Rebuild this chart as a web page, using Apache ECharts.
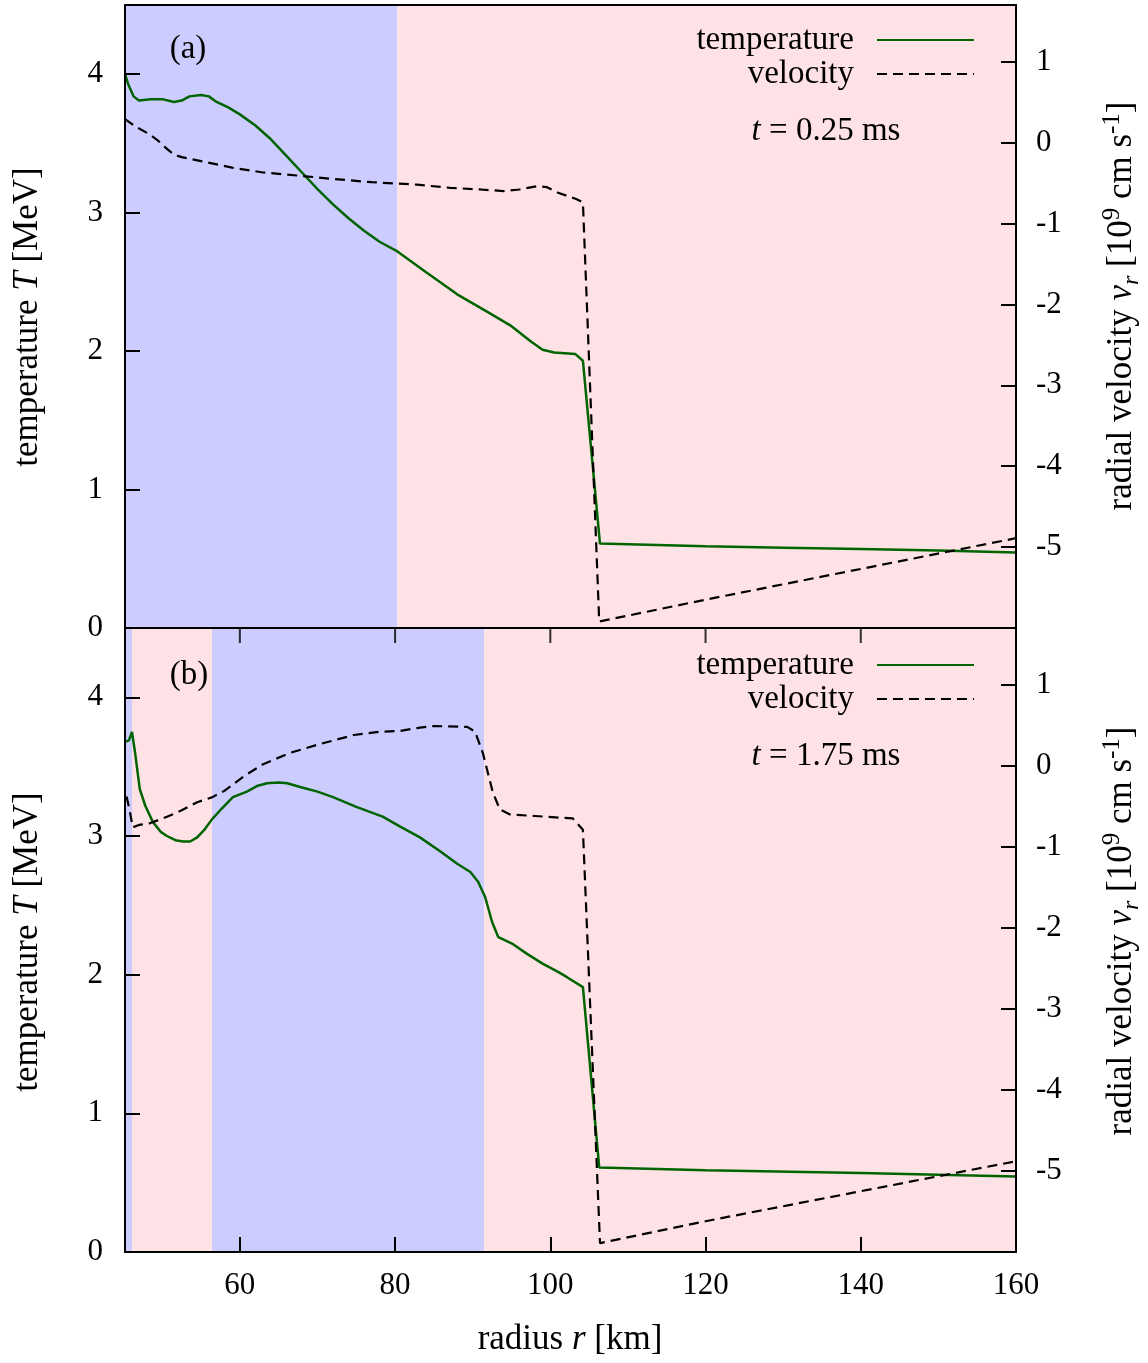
<!DOCTYPE html>
<html><head><meta charset="utf-8">
<script src="https://cdn.jsdelivr.net/npm/echarts@6/dist/echarts.min.js"></script>
<style>html,body{margin:0;padding:0;background:#fff}#c{width:1148px;height:1363px}</style>
</head><body><div id="c"></div><script>
// ---------- data ----------
const xTicks = [60, 80, 100, 120, 140, 160];
const tTicks = [0, 1, 2, 3, 4];
const vTicks = [-5, -4, -3, -2, -1, 0, 1];
const tMax = 4.5;

// background regions (radius ranges, km)
const blueBandsA = [[45.2, 80.3]];
const pinkBandsA = [[80.3, 160]];
const blueBandsB = [[45.2, 46.1], [56.4, 91.5]];
const pinkBandsB = [[46.1, 56.4], [91.5, 160]];

// panel (a), t = 0.25 ms
const rTempA = [45.2, 45.6, 46.3, 47.0, 48.5, 50.0, 51.5, 52.5, 53.5, 55.0, 56.0, 57.0, 58.5, 60.0, 62.0, 64.0, 66.0, 68.0, 70.0, 72.0, 74.0, 76.0, 78.0, 80.3, 84.0, 88.0, 92.0, 95.0, 97.5, 99.0, 100.5, 103.2, 104.2, 106.4, 110, 120, 130, 140, 150, 160];
const tempA  = [4.00, 3.93, 3.84, 3.81, 3.82, 3.82, 3.80, 3.81, 3.84, 3.85, 3.84, 3.80, 3.76, 3.71, 3.63, 3.53, 3.41, 3.29, 3.17, 3.06, 2.96, 2.87, 2.79, 2.72, 2.57, 2.41, 2.28, 2.18, 2.07, 2.01, 1.99, 1.98, 1.93, 0.61, 0.605, 0.59, 0.58, 0.57, 0.56, 0.545];
const rVelA  = [45.2, 46.5, 48.4, 49.5, 50.5, 51.5, 52.5, 55.0, 59.0, 63.0, 67.7, 72.0, 77.0, 82.8, 87.1, 91.0, 94.0, 96.0, 98.3, 99.5, 101.0, 103.4, 104.2, 106.3, 120, 140, 160];
const velA   = [0.29, 0.20, 0.10, 0.02, -0.07, -0.15, -0.18, -0.23, -0.31, -0.37, -0.41, -0.45, -0.49, -0.52, -0.56, -0.58, -0.60, -0.58, -0.54, -0.55, -0.62, -0.70, -0.74, -5.92, -5.65, -5.27, -4.89];

// panel (b), t = 1.75 ms
const rTempB = [45.3, 45.7, 46.1, 46.5, 47.1, 47.8, 48.8, 49.8, 50.6, 51.7, 52.7, 53.6, 54.5, 55.5, 56.4, 57.7, 59.1, 60.9, 62.2, 63.5, 65.0, 66.1, 68.0, 70.0, 72.0, 75.0, 78.4, 80.6, 83.2, 85.8, 88.0, 89.7, 90.7, 91.6, 92.5, 93.3, 95.2, 97.0, 99.0, 101.0, 102.2, 104.2, 106.3, 120, 140, 160];
const tempB  = [3.68, 3.69, 3.75, 3.60, 3.34, 3.22, 3.10, 3.03, 3.00, 2.97, 2.96, 2.96, 2.99, 3.05, 3.12, 3.20, 3.28, 3.32, 3.36, 3.38, 3.385, 3.38, 3.35, 3.32, 3.28, 3.21, 3.14, 3.07, 2.99, 2.89, 2.80, 2.74, 2.67, 2.56, 2.38, 2.27, 2.22, 2.15, 2.08, 2.02, 1.98, 1.91, 0.61, 0.59, 0.57, 0.545];
const rVelB  = [45.4, 45.8, 46.2, 47.0, 48.4, 50.6, 52.5, 54.5, 56.4, 58.0, 60.5, 63.0, 66.5, 70.0, 74.7, 78.0, 80.6, 83.2, 85.0, 89.3, 90.3, 91.3, 92.6, 93.5, 94.8, 98.0, 102.9, 104.2, 106.4, 120, 140, 160];
const velB   = [-0.38, -0.55, -0.76, -0.73, -0.71, -0.63, -0.55, -0.45, -0.39, -0.31, -0.13, 0.02, 0.16, 0.26, 0.38, 0.42, 0.43, 0.47, 0.49, 0.48, 0.42, 0.16, -0.33, -0.54, -0.60, -0.62, -0.65, -0.79, -5.89, -5.62, -5.25, -4.88];

// ---------- build ----------
const FONT = 'Liberation Serif';
const zip = (a, b) => a.map((v, i) => [v, b[i]]);
const BLUE = '#ccccff', PINK = '#ffe2e5';
const bandData = (blue, pink) =>
  blue.map(b => [{ xAxis: b[0], itemStyle: { color: BLUE } }, { xAxis: b[1] }])
    .concat(pink.map(b => [{ xAxis: b[0], itemStyle: { color: PINK } }, { xAxis: b[1] }]));

const tickStyle = { show: true, inside: true, length: 15, lineStyle: { color: '#000', width: 2 } };
const lblStyle = { color: '#000', fontFamily: FONT, fontSize: 31 };

function xAx(grid, showLbl, showTick) {
  return {
    type: 'value', gridIndex: grid, position: 'bottom', min: 45.2, max: 160, z: 10,
    axisLine: { show: false, onZero: false }, splitLine: { show: false },
    axisTick: Object.assign({}, tickStyle, { show: showTick, customValues: xTicks }),
    axisLabel: Object.assign({}, lblStyle, { show: showLbl, margin: 18, customValues: xTicks })
  };
}
function yT(grid) {
  return {
    type: 'value', gridIndex: grid, position: 'left', min: 0, max: tMax, z: 10,
    axisLine: { show: false, onZero: false }, splitLine: { show: false },
    axisTick: Object.assign({}, tickStyle, { customValues: tTicks }),
    axisLabel: Object.assign({}, lblStyle, { margin: 22, customValues: tTicks })
  };
}
function yV(grid) {
  return {
    type: 'value', gridIndex: grid, position: 'right', min: -6, max: 1.7, z: 10,
    axisLine: { show: false, onZero: false }, splitLine: { show: false },
    axisTick: Object.assign({}, tickStyle, { customValues: vTicks }),
    axisLabel: Object.assign({}, lblStyle, { margin: 20, customValues: vTicks })
  };
}

const tempLine = { color: '#006400', width: 2.5 };
const velLine = { color: '#000', width: 2.2, type: [10, 6] };

function panelSeries(xi, yTi, yVi, rT, T, rV, V, blue, pink) {
  return [
    { type: 'line', name: 'bands', xAxisIndex: xi, yAxisIndex: yTi, data: [], silent: true, z: 1,
      markArea: { silent: true, data: bandData(blue, pink), itemStyle: { opacity: 1 } } },
    { type: 'line', name: 'temperature', xAxisIndex: xi, yAxisIndex: yTi, data: zip(rT, T),
      symbol: 'none', lineStyle: tempLine, itemStyle: { color: '#006400' }, z: 3 },
    { type: 'line', name: 'velocity', xAxisIndex: xi, yAxisIndex: yVi, data: zip(rV, V),
      symbol: 'none', lineStyle: velLine, itemStyle: { color: '#000' }, z: 3 }
  ];
}
// mirrored x tick marks along the top edge of panel (b)
const topTicksB = {
  type: 'scatter', name: 'topTicks', xAxisIndex: 1, yAxisIndex: 2, silent: true, clip: false, z: 12,
  data: xTicks.map(v => [v, tMax]), symbol: 'rect', symbolSize: [2, 15], symbolOffset: [0, 7.5],
  itemStyle: { color: '#000' }
};

const legendBase = {
  data: ['temperature', 'velocity'], orient: 'vertical', right: 173, align: 'right',
  itemWidth: 97, itemHeight: 14, itemGap: 0, padding: 0, selectedMode: false,
  itemStyle: { opacity: 0 },
  textStyle: { color: '#000', fontFamily: FONT, fontSize: 33, lineHeight: 34, padding: [0, 18, 0, 0] }
};

const richBase = {
  i: { fontFamily: FONT, fontSize: 35, fontStyle: 'italic', fill: '#000', lineHeight: 44 },
  si: { fontFamily: FONT, fontSize: 24, fontStyle: 'italic', verticalAlign: 'bottom', fill: '#000', lineHeight: 40 },
  sup: { fontFamily: FONT, fontSize: 25, verticalAlign: 'top', fill: '#000', lineHeight: 44 },
  n: { fontFamily: FONT, fontSize: 35, fill: '#000', lineHeight: 44 }
};

function rotText(cx, cy, text) {
  return {
    type: 'text', x: cx, y: cy, rotation: Math.PI / 2, z: 20,
    style: { text: text, fill: '#000', fontFamily: FONT, fontSize: 35, align: 'center', verticalAlign: 'middle', rich: richBase }
  };
}
function plainText(x, y, text, size) {
  return { type: 'text', x: x, y: y, z: 20,
    style: { text: text, fill: '#000', fontFamily: FONT, fontSize: size, align: 'center', verticalAlign: 'middle',
      rich: { i: { fontFamily: FONT, fontSize: size, fontStyle: 'italic', fill: '#000' } } } };
}

const velTitle = '{n|radial velocity }{i|v}{si|r}{n| [10}{sup|9}{n| cm s}{sup|-1}{n|]}';
const option = {
  animation: false,
  backgroundColor: '#fff',
  grid: [
    { left: 125, top: 5, width: 891, height: 623, show: true, z: 10, borderColor: '#000', borderWidth: 2, backgroundColor: 'transparent' },
    { left: 125, top: 628, width: 891, height: 624, show: true, z: 10, borderColor: '#000', borderWidth: 2, backgroundColor: 'transparent' }
  ],
  xAxis: [xAx(0, false, false), xAx(1, true, true)],
  yAxis: [yT(0), yV(0), yT(1), yV(1)],
  legend: [Object.assign({ top: 23 }, legendBase), Object.assign({ top: 648 }, legendBase)],
  series: panelSeries(0, 0, 1, rTempA, tempA, rVelA, velA, blueBandsA, pinkBandsA)
    .concat(panelSeries(1, 2, 3, rTempB, tempB, rVelB, velB, blueBandsB, pinkBandsB))
    .concat([topTicksB]),
  graphic: [
    plainText(188, 49, '(a)', 33),
    plainText(189, 675, '(b)', 33),
    plainText(826, 131, '{i|t} = 0.25 ms', 33),
    plainText(826, 756, '{i|t} = 1.75 ms', 33),
    plainText(570, 1340, 'radius {i|r} [km]', 35),
    rotText(28, 317, '{n|temperature }{i|T}{n| [MeV]}'),
    rotText(28, 942, '{n|temperature }{i|T}{n| [MeV]}'),
    rotText(1122, 306, velTitle),
    rotText(1122, 931, velTitle)
  ]
};
const chart = echarts.init(document.getElementById('c'), null, { renderer: 'canvas' });
chart.setOption(option);
</script></body></html>
